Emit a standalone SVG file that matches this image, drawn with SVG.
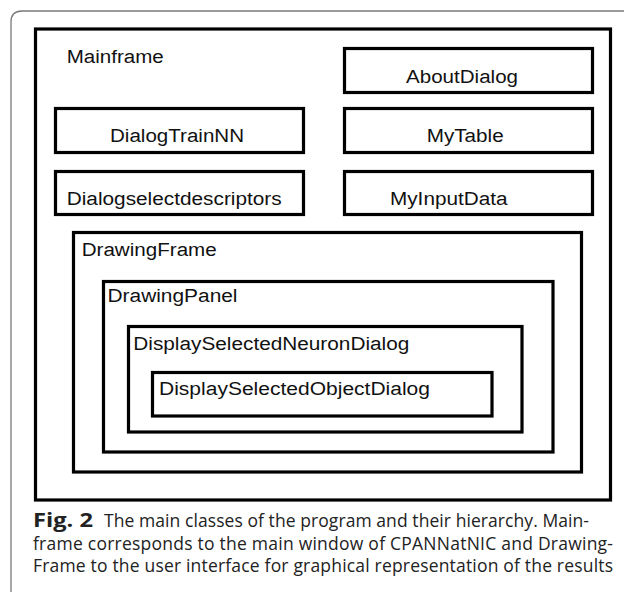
<svg xmlns="http://www.w3.org/2000/svg" width="624" height="592" viewBox="0 0 624 592">
  <style>
    .box { fill: none; stroke: #000; stroke-width: 3.2; }
    .lbl { font-family: "Liberation Sans", Arial, sans-serif; font-size: 18px; fill: #111; }
    .cap { font-family: "Open Sans", "Noto Sans", sans-serif; font-size: 17.5px; fill: #222; }
    .capb { font-weight: bold; font-size: 19px; }
    .frame { fill: none; stroke: #7a7a7a; stroke-width: 1.3; }
  </style>
  <rect width="624" height="592" fill="#fff"/>

  <!-- figure border (open on the right and bottom) -->
  <path class="frame" d="M11,592 V22 Q11,11 22,11 H624"/>

  <g id="mainframe">
    <rect class="box" x="35.5" y="29" width="575" height="471"/>
    <text class="lbl" x="66.7" y="62.7" textLength="97" lengthAdjust="spacingAndGlyphs">Mainframe</text>
  </g>

  <g id="aboutdialog">
    <rect class="box" x="344.5" y="48.5" width="248" height="44"/>
    <text class="lbl" x="406" y="82.7" textLength="112" lengthAdjust="spacingAndGlyphs">AboutDialog</text>
  </g>

  <g id="dialogtrainnn">
    <rect class="box" x="55.5" y="108.5" width="248" height="44"/>
    <text class="lbl" x="110" y="141.7" textLength="134" lengthAdjust="spacingAndGlyphs">DialogTrainNN</text>
  </g>

  <g id="mytable">
    <rect class="box" x="344.5" y="108.5" width="248" height="44"/>
    <text class="lbl" x="426.7" y="141.7" textLength="77" lengthAdjust="spacingAndGlyphs">MyTable</text>
  </g>

  <g id="dialogselectdescriptors">
    <rect class="box" x="55.5" y="171.5" width="248" height="43"/>
    <text class="lbl" x="66.7" y="205" textLength="215" lengthAdjust="spacingAndGlyphs">Dialogselectdescriptors</text>
  </g>

  <g id="myinputdata">
    <rect class="box" x="344.5" y="171.5" width="248" height="43"/>
    <text class="lbl" x="390" y="205" textLength="117.5" lengthAdjust="spacingAndGlyphs">MyInputData</text>
  </g>

  <g id="drawingframe">
    <rect class="box" x="73.5" y="232.5" width="508" height="239.5"/>
    <text class="lbl" x="81.7" y="256" textLength="135" lengthAdjust="spacingAndGlyphs">DrawingFrame</text>
  </g>

  <g id="drawingpanel">
    <rect class="box" x="103.5" y="281.5" width="449.5" height="170.5"/>
    <text class="lbl" x="107.5" y="302" textLength="130" lengthAdjust="spacingAndGlyphs">DrawingPanel</text>
  </g>

  <g id="displayselectedneurondialog">
    <rect class="box" x="128.5" y="326.5" width="393.5" height="105.5"/>
    <text class="lbl" x="133.3" y="350" textLength="276" lengthAdjust="spacingAndGlyphs">DisplaySelectedNeuronDialog</text>
  </g>

  <g id="displayselectedobjectdialog">
    <rect class="box" x="152.5" y="372.5" width="339.5" height="43.5"/>
    <text class="lbl" x="159" y="395" textLength="271" lengthAdjust="spacingAndGlyphs">DisplaySelectedObjectDialog</text>
  </g>

  <!-- nesting is shown by containment; there are no connector lines -->
  <g id="connectors"/>

  <g id="caption">
    <text class="cap capb" x="33" y="527" textLength="60" lengthAdjust="spacingAndGlyphs">Fig. 2</text>
    <text class="cap" x="104" y="527" textLength="485" lengthAdjust="spacing">The main classes of the program and their hierarchy. Main-</text>
    <text class="cap" x="33" y="549.5" textLength="580" lengthAdjust="spacing">frame corresponds to the main window of CPANNatNIC and Drawing-</text>
    <text class="cap" x="33" y="572" textLength="580" lengthAdjust="spacing">Frame to the user interface for graphical representation of the results</text>
  </g>
</svg>
